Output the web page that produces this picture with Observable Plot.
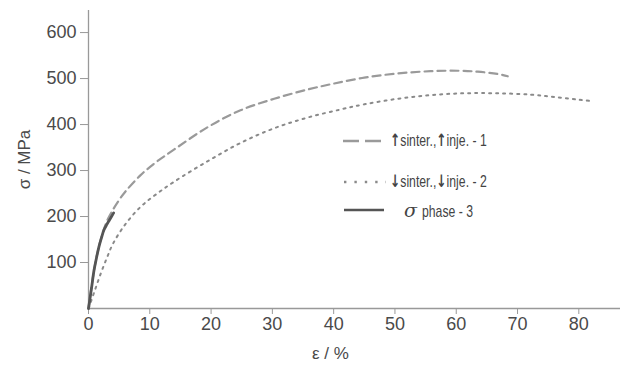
<!DOCTYPE html>
<html>
<head>
<meta charset="utf-8">
<script src="https://cdn.jsdelivr.net/npm/d3@7"></script>
<script src="https://cdn.jsdelivr.net/npm/@observablehq/plot@0.6"></script>
<style>
  html, body { margin: 0; padding: 0; background: #fff; }
  #wrap { position: relative; width: 626px; height: 369px; font-family: "Liberation Sans", Arial, sans-serif; }
  #legend { position: absolute; left: 342px; top: 128px; color: #444; font-size: 17px; }
  #legend .row { position: absolute; left: 0; height: 24px; width: 220px; white-space: nowrap; }
  #legend svg { position: absolute; left: 0; top: 0; }
  #legend .txt { position: absolute; top: 2px; transform-origin: 0 50%; transform: scaleX(0.72); }
  .arr { font-weight: bold; font-family: "DejaVu Sans", sans-serif; font-size: 17px; }
</style>
</head>
<body>
<div id="wrap"></div>
<script>
// Curve 1: ↑ sinter., ↑ inje. (dashed)
const eps1 = [0, 1, 2, 3, 4, 5, 6, 8.5, 11, 14, 19.4, 24.8, 30.3, 35.7, 40, 45, 50.4, 55.8, 60.2, 63.5, 66.7, 68.4];
const sig1 = [0, 90, 150, 190, 215, 236, 254, 290, 318, 346, 394, 431, 456, 476, 489, 502, 511, 516, 517, 515, 510, 505];
// Curve 2: ↓ sinter., ↓ inje. (dotted)
const eps2 = [0, 1, 2, 3, 4, 6, 8.5, 11, 14, 19.4, 24.8, 30.3, 35.7, 41.2, 45, 50.4, 55.8, 61.3, 66.7, 72.2, 76, 80, 82];
const sig2 = [0, 38, 76, 110, 141, 183, 221, 248, 276, 320, 360, 392, 415, 433, 444, 456, 464, 468, 468, 465, 460, 454, 451];
// Curve 3: σ phase (solid)
const eps3 = [0, 0.5, 0.9, 1.3, 1.7, 2.1, 2.5, 3, 3.4, 4.1];
const sig3 = [0, 45, 83, 110, 134, 153, 170, 183, 192, 208];

const xTicks = [0, 10, 20, 30, 40, 50, 60, 70, 80];
const yTicks = [100, 200, 300, 400, 500, 600];
const xLabel = "ε / %";
const yLabel = "σ / MPa";
const legendLabels = ["sinter.,", "inje. - 1", "sinter.,", "inje. - 2", "σ", "phase - 3"];

const toRows = (xs, ys) => xs.map((x, i) => ({x, y: ys[i]}));
const d1 = toRows(eps1, sig1), d2 = toRows(eps2, sig2), d3 = toRows(eps3, sig3);

const chart = Plot.plot({
  width: 626,
  height: 369,
  marginLeft: 88,
  marginTop: 10,
  marginBottom: 61,
  marginRight: 6,
  style: {fontFamily: "Liberation Sans, Arial, sans-serif", fontSize: "18px", color: "#4a4a4a", background: "#fff"},
  x: {domain: [0, 86.8]},
  y: {domain: [0, 648]},
  marks: [
    Plot.axisX({ticks: xTicks, tickSize: 6, tickPadding: 3, label: null, stroke: "#999", fill: "#4a4a4a", fontSize: 18}),
    Plot.axisY({ticks: yTicks, tickSize: 8, tickPadding: 4, label: null, stroke: "#999", fill: "#4a4a4a", fontSize: 18}),
    Plot.ruleY([0], {stroke: "#999", strokeWidth: 1.3}),
    Plot.ruleX([0], {stroke: "#999", strokeWidth: 1.3}),
    Plot.line(d2, {x: "x", y: "y", curve: "catmull-rom", stroke: "#8a8a8a", strokeWidth: 2, strokeDasharray: "2,5"}),
    Plot.line(d1, {x: "x", y: "y", curve: "catmull-rom", stroke: "#9a9a9a", strokeWidth: 2.2, strokeDasharray: "8,5"}),
    Plot.line(d3, {x: "x", y: "y", curve: "catmull-rom", stroke: "#555", strokeWidth: 2.8}),
    Plot.text([xLabel], {frameAnchor: "bottom", dx: -24, dy: 50, text: d => d, fontSize: 17, fill: "#4a4a4a"}),
    Plot.text([yLabel], {frameAnchor: "left", textAnchor: "middle", dx: -64, rotate: -90, text: d => d, fontSize: 17, fill: "#4a4a4a"})
  ]
});

const wrap = document.getElementById("wrap");
wrap.appendChild(chart);

const legend = document.createElement("div");
legend.id = "legend";
legend.innerHTML = `
  <div class="row" style="top:0px">
    <svg width="46" height="24"><line x1="1" x2="39" y1="13" y2="13" stroke="#9a9a9a" stroke-width="2.4" stroke-dasharray="16,6"/></svg>
    <span class="txt" style="left:48px"><span class="arr">&#x2191;</span>${legendLabels[0]}<span class="arr">&#x2191;</span>${legendLabels[1]}</span>
  </div>
  <div class="row" style="top:41px">
    <svg width="46" height="24"><line x1="2" x2="44" y1="13" y2="13" stroke="#8a8a8a" stroke-width="2.4" stroke-dasharray="2.4,8"/></svg>
    <span class="txt" style="left:48px"><span class="arr">&#x2193;</span>${legendLabels[2]}<span class="arr">&#x2193;</span>${legendLabels[3]}</span>
  </div>
  <div class="row" style="top:69px">
    <svg width="46" height="24"><line x1="2" x2="42" y1="13" y2="13" stroke="#555" stroke-width="2.6"/></svg>
    <span class="txt" style="left:62px;transform:none"><i style="font-family:'DejaVu Serif',serif;font-size:19px">${legendLabels[4]}</i> <span style="display:inline-block;transform-origin:0 50%;transform:scaleX(0.72)">${legendLabels[5]}</span></span>
  </div>`;
wrap.appendChild(legend);
</script>
</body>
</html>
